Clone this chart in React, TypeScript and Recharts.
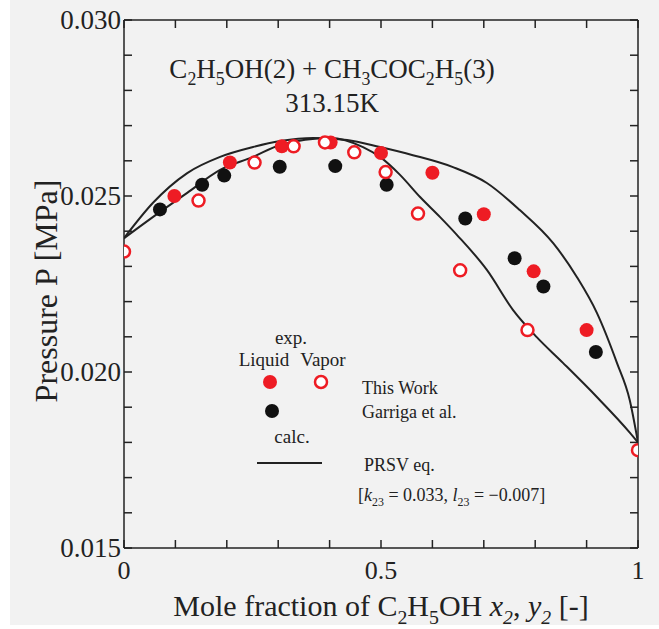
import React from 'react';
import { ComposedChart, Line, Scatter, XAxis, YAxis } from 'recharts';

// ---- data ----
const liquidX = [0.098, 0.206, 0.307, 0.402, 0.5, 0.6, 0.7, 0.797, 0.9];
const liquidP = [0.025, 0.02595, 0.02641, 0.02652, 0.02622, 0.02566, 0.02448, 0.02286, 0.02119];

const vaporX = [0.0, 0.145, 0.254, 0.33, 0.391, 0.448, 0.509, 0.572, 0.654, 0.785, 1.0];
const vaporP = [0.02342, 0.02487, 0.02595, 0.02641, 0.02652, 0.02624, 0.02568, 0.0245, 0.02289, 0.02119, 0.01778];

const garrigaX = [0.07, 0.152, 0.195, 0.303, 0.411, 0.511, 0.664, 0.76, 0.816, 0.918];
const garrigaP = [0.02462, 0.02532, 0.02558, 0.02583, 0.02585, 0.02532, 0.02436, 0.02323, 0.02243, 0.02057];

const bubbleX = [0, 0.056, 0.123, 0.187, 0.251, 0.304, 0.368, 0.434, 0.498, 0.562, 0.64, 0.706, 0.77, 0.835, 0.881, 0.92, 0.959, 0.984, 1.0];
const bubbleP = [0.0238, 0.0248, 0.02565, 0.02611, 0.02639, 0.02656, 0.02665, 0.02659, 0.02639, 0.02616, 0.02582, 0.02537, 0.0246, 0.02366, 0.0227, 0.02168, 0.02026, 0.0192, 0.018];

const dewX = [0, 0.056, 0.123, 0.187, 0.251, 0.304, 0.401, 0.465, 0.498, 0.537, 0.576, 0.615, 0.648, 0.706, 0.757, 0.803, 0.854, 0.92, 0.984, 1.0];
const dewP = [0.0238, 0.0244, 0.02509, 0.02574, 0.02611, 0.02645, 0.02665, 0.02639, 0.02611, 0.0256, 0.02497, 0.0244, 0.02389, 0.0229, 0.02176, 0.02099, 0.02026, 0.01929, 0.01828, 0.018];

const xTicks = [0, 0.1, 0.2, 0.3, 0.4, 0.5, 0.6, 0.7, 0.8, 0.9, 1];
const xTickLabelValues = [0, 0.5, 1];
const xTickLabels = ['0', '0.5', '1'];

const yTicks = [0.015, 0.016, 0.017, 0.018, 0.019, 0.02, 0.021, 0.022, 0.023, 0.024, 0.025, 0.026, 0.027, 0.028, 0.029, 0.03];
const yTickLabelValues = [0.015, 0.02, 0.025, 0.03];
const yTickLabels = ['0.015', '0.020', '0.025', '0.030'];

const zip = (xs: number[], ps: number[]) => xs.map((x, i) => ({ x, p: ps[i] }));
const liquid = zip(liquidX, liquidP);
const vapor = zip(vaporX, vaporP);
const garriga = zip(garrigaX, garrigaP);
const bubble = zip(bubbleX, bubbleP);
const dew = zip(dewX, dewP);

// ---- styling ----
const SERIF = '"Liberation Serif", "Times New Roman", serif';
const INK = '#222';
const RED = '#ee1c24';
const TICK = 8;

const labelFor = (v: number, vals: number[], labs: string[]) => {
  const i = vals.findIndex((t) => Math.abs(t - v) < 1e-9);
  return i >= 0 ? labs[i] : null;
};

const BottomTick = (props: any) => {
  const { x, y, payload } = props;
  const lab = labelFor(payload.value, xTickLabelValues, xTickLabels);
  return (
    <g>
      <line x1={x} y1={y} x2={x} y2={y - TICK} stroke={INK} strokeWidth={1.5} />
      {lab && (
        <text x={x} y={y + 31} textAnchor="middle" fontFamily={SERIF} fontSize={26} fill={INK}>
          {lab}
        </text>
      )}
    </g>
  );
};
const TopTick = (props: any) => {
  const { x, y } = props;
  return <line x1={x} y1={y} x2={x} y2={y + TICK} stroke={INK} strokeWidth={1.5} />;
};
const LeftTick = (props: any) => {
  const { x, y, payload } = props;
  const lab = labelFor(payload.value, yTickLabelValues, yTickLabels);
  return (
    <g>
      <line x1={x} y1={y} x2={x + TICK} y2={y} stroke={INK} strokeWidth={1.5} />
      {lab && (
        <text x={x - 3} y={y + 9} textAnchor="end" fontFamily={SERIF} fontSize={27} fill={INK}>
          {lab}
        </text>
      )}
    </g>
  );
};
const RightTick = (props: any) => {
  const { x, y } = props;
  return <line x1={x} y1={y} x2={x - TICK} y2={y} stroke={INK} strokeWidth={1.5} />;
};

const FilledDot = (color: string) => (props: any) =>
  <circle cx={props.cx} cy={props.cy} r={7} fill={color} />;
const OpenDot = (props: any) =>
  <circle cx={props.cx} cy={props.cy} r={6} fill="#fff" stroke={RED} strokeWidth={2.5} />;

type Part = { t: string; sub?: boolean; it?: boolean };
const Rich = ({ parts, fs }: { parts: Part[]; fs: number }) => {
  let lowered = false;
  const sh = fs * 0.25;
  return (
    <>
      {parts.map((p, i) => {
        let dy = 0;
        if (p.sub && !lowered) { dy = sh; lowered = true; }
        else if (!p.sub && lowered) { dy = -sh; lowered = false; }
        return (
          <tspan key={i} dy={dy} fontSize={p.sub ? fs * 0.66 : fs} fontStyle={p.it ? 'italic' : 'normal'}>
            {p.t}
          </tspan>
        );
      })}
    </>
  );
};

const titleParts: Part[] = [
  { t: 'C' }, { t: '2', sub: true }, { t: 'H' }, { t: '5', sub: true }, { t: 'OH(2) + CH' }, { t: '3', sub: true },
  { t: 'COC' }, { t: '2', sub: true }, { t: 'H' }, { t: '5', sub: true }, { t: '(3)' },
];
const xLabelParts: Part[] = [
  { t: 'Mole fraction of C' }, { t: '2', sub: true }, { t: 'H' }, { t: '5', sub: true }, { t: 'OH ' },
  { t: 'x', it: true }, { t: '2', sub: true, it: true }, { t: ', ' }, { t: 'y', it: true }, { t: '2', sub: true, it: true }, { t: ' [-]' },
];
const paramParts: Part[] = [
  { t: '[' }, { t: 'k', it: true }, { t: '23', sub: true }, { t: ' = 0.033, ' }, { t: 'l', it: true }, { t: '23', sub: true }, { t: ' = \u22120.007]' },
];

export default function App() {
  const W = 659;
  const H = 629;
  return (
    <div style={{ position: 'absolute', left: 0, top: 0, width: W, height: H, background: '#fff', overflow: 'hidden' }}>
      <div style={{ position: 'absolute', left: 10, top: 0, width: W - 10, height: H - 4, background: '#f2f2f2' }} />
      <div style={{ position: 'absolute', left: 0, top: 0 }}>
        <ComposedChart width={W} height={H} margin={{ top: 19, right: 20, bottom: 0, left: 0 }}>
          <XAxis xAxisId="b" type="number" dataKey="x" domain={[0, 1]} ticks={xTicks} interval={0}
            orientation="bottom" height={81} tickSize={0} tickMargin={0} tickLine={false}
            axisLine={{ stroke: INK, strokeWidth: 1.5 }} tick={<BottomTick />} allowDataOverflow />
          <XAxis xAxisId="t" type="number" dataKey="x" domain={[0, 1]} ticks={xTicks} interval={0}
            orientation="top" height={1} tickSize={0} tickMargin={0} tickLine={false}
            axisLine={{ stroke: INK, strokeWidth: 1.5 }} tick={<TopTick />} allowDataOverflow />
          <YAxis yAxisId="l" type="number" dataKey="p" domain={[0.015, 0.03]} ticks={yTicks} interval={0}
            orientation="left" width={124} tickSize={0} tickMargin={0} tickLine={false}
            axisLine={{ stroke: INK, strokeWidth: 1.5 }} tick={<LeftTick />} allowDataOverflow />
          <YAxis yAxisId="r" type="number" dataKey="p" domain={[0.015, 0.03]} ticks={yTicks} interval={0}
            orientation="right" width={1} tickSize={0} tickMargin={0} tickLine={false}
            axisLine={{ stroke: INK, strokeWidth: 1.5 }} tick={<RightTick />} allowDataOverflow />

          <Line xAxisId="b" yAxisId="l" data={bubble} dataKey="p" type="monotone" dot={false}
            stroke={INK} strokeWidth={2} isAnimationActive={false} />
          <Line xAxisId="b" yAxisId="l" data={dew} dataKey="p" type="monotone" dot={false}
            stroke={INK} strokeWidth={2} isAnimationActive={false} />
          <Line xAxisId="t" yAxisId="r" data={dew} dataKey="p" stroke="none" dot={false} isAnimationActive={false} />

          <Scatter xAxisId="b" yAxisId="l" data={garriga} dataKey="p" shape={FilledDot('#111')} isAnimationActive={false} />
          <Scatter xAxisId="b" yAxisId="l" data={liquid} dataKey="p" shape={FilledDot(RED)} isAnimationActive={false} />
          <Scatter xAxisId="b" yAxisId="l" data={vapor} dataKey="p" shape={OpenDot} isAnimationActive={false} />
        </ComposedChart>
      </div>
      <svg width={W} height={H} style={{ position: 'absolute', left: 0, top: 0, pointerEvents: 'none' }}>
        <g fontFamily={SERIF} fill={INK}>
          <text x={332} y={78} textAnchor="middle" fontSize={27}>
            <Rich parts={titleParts} fs={27} />
          </text>
          <text x={332} y={112} textAnchor="middle" fontSize={27}>313.15K</text>

          <text x={381} y={616} textAnchor="middle" fontSize={30}>
            <Rich parts={xLabelParts} fs={30} />
          </text>
          <text transform="translate(57,291) rotate(-90)" textAnchor="middle" fontSize={32}>Pressure P [MPa]</text>

          <text x={291} y={344} textAnchor="middle" fontSize={19}>exp.</text>
          <text x={264} y={366} textAnchor="middle" fontSize={19}>Liquid</text>
          <text x={323} y={366} textAnchor="middle" fontSize={19}>Vapor</text>
          <circle cx={270} cy={382} r={7} fill={RED} />
          <circle cx={321} cy={382} r={6} fill="#fff" stroke={RED} strokeWidth={2.5} />
          <circle cx={272} cy={411} r={7} fill="#111" />
          <text x={292} y={443} textAnchor="middle" fontSize={19}>calc.</text>
          <line x1={257} y1={463} x2={322} y2={463} stroke={INK} strokeWidth={2} />

          <text x={362} y={394} fontSize={18}>This Work</text>
          <text x={362} y={418} fontSize={18}>Garriga et al.</text>
          <text x={364} y={471} fontSize={18}>PRSV eq.</text>
          <text x={358} y={501} fontSize={18}>
            <Rich parts={paramParts} fs={18} />
          </text>
        </g>
      </svg>
    </div>
  );
}
